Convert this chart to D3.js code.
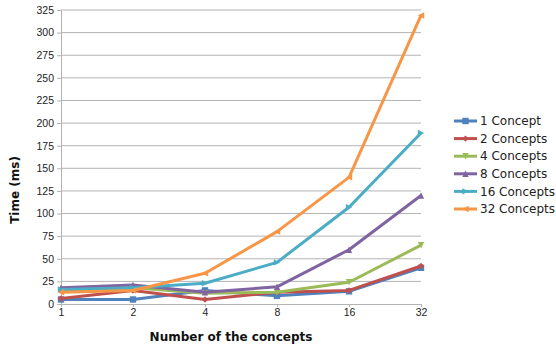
<!DOCTYPE html>
<html>
<head>
<meta charset="utf-8">
<script src="https://cdn.jsdelivr.net/npm/d3@7/dist/d3.min.js"></script>
<style>
  html, body { margin: 0; padding: 0; background: #fff; }
  svg { display: block; font-family: "DejaVu Sans", sans-serif; }
</style>
</head>
<body>
<svg id="chart" width="556" height="349"></svg>
<script>
// Number of concepts on the x axis (log2 spacing)
const concepts = [1, 2, 4, 8, 16, 32];
const yTicks = [0, 25, 50, 75, 100, 125, 150, 175, 200, 225, 250, 275, 300, 325];

// Time (ms) per series
const seriesNames = ["1 Concept", "2 Concepts", "4 Concepts", "8 Concepts", "16 Concepts", "32 Concepts"];
const oneConcept     = [5, 5, 15, 9, 14, 40];
const twoConcepts    = [6, 15, 5, 13, 15, 42];
const fourConcepts   = [15, 18, 12, 13, 24, 65];
const eightConcepts  = [18, 21, 13, 19, 60, 120];
const sixteenConcepts = [16, 18, 23, 46, 107, 189];
const thirtyTwoConcepts = [13, 15, 34, 80, 140, 319];

const colors = ["#4f81bd", "#c0504d", "#9bbb59", "#8064a2", "#4bacc6", "#f79646"];
const symbols = ["square", "diamond", "down", "up", "right", "left"];

const seriesValues = [oneConcept, twoConcepts, fourConcepts, eightConcepts, sixteenConcepts, thirtyTwoConcepts];
const series = seriesNames.map((name, i) => ({
  name, color: colors[i], symbol: symbols[i],
  values: concepts.map((c, j) => ({ x: c, y: seriesValues[i][j] }))
}));

const svg = d3.select("#chart");
const plotLeft = 61, plotRight = 421, plotTop = 10, plotBottom = 304;

const x = d3.scaleLog().base(2).domain([1, 32]).range([plotLeft, plotRight]);
const y = d3.scaleLinear().domain([0, 325]).range([plotBottom, plotTop]);

// horizontal gridlines
svg.append("g")
  .selectAll("line")
  .data(yTicks.filter(d => d > 0))
  .join("line")
  .attr("x1", plotLeft).attr("x2", plotRight)
  .attr("y1", d => y(d)).attr("y2", d => y(d))
  .attr("stroke", "#b3b3b3").attr("stroke-width", 1);

// y axis
const yAxis = svg.append("g")
  .attr("transform", `translate(${plotLeft},0)`)
  .call(d3.axisLeft(y).tickValues(yTicks).tickSize(4).tickPadding(3).tickFormat(d3.format("d")));
yAxis.select(".domain").attr("stroke", "#b3b3b3");
yAxis.selectAll(".tick line").attr("stroke", "#b3b3b3");
yAxis.selectAll("text").attr("font-size", 10.5).attr("fill", "#222");

// x axis
const xAxis = svg.append("g")
  .attr("transform", `translate(0,${plotBottom})`)
  .call(d3.axisBottom(x).tickValues(concepts).tickSize(3).tickPadding(2).tickFormat(d3.format("d")));
xAxis.select(".domain").attr("stroke", "#b3b3b3");
xAxis.selectAll(".tick line").attr("stroke", "#b3b3b3");
xAxis.selectAll("text").attr("font-size", 10.5).attr("fill", "#222");

// axis titles
svg.append("text")
  .attr("x", 231).attr("y", 341)
  .attr("text-anchor", "middle")
  .attr("font-weight", "bold").attr("font-size", 12).attr("fill", "#111")
  .text("Number of the concepts");
svg.append("text")
  .attr("transform", "translate(19,190) rotate(-90)")
  .attr("text-anchor", "middle")
  .attr("font-weight", "bold").attr("font-size", 12).attr("fill", "#111")
  .text("Time (ms)");

// marker shapes
function markerPath(type, s) {
  switch (type) {
    case "square":  return `M${-s},${-s}H${s}V${s}H${-s}Z`;
    case "diamond": return `M0,${-s}L${s},0L0,${s}L${-s},0Z`;
    case "down":    return `M${-s},${-s}H${s}L0,${s}Z`;
    case "up":      return `M${-s},${s}H${s}L0,${-s}Z`;
    case "right":   return `M${-s},${-s}V${s}L${s},0Z`;
    case "left":    return `M${s},${-s}V${s}L${-s},0Z`;
  }
}

const line = d3.line().x(d => x(d.x)).y(d => y(d.y));

const g = svg.append("g");
series.forEach(s => {
  g.append("path")
    .datum(s.values)
    .attr("fill", "none")
    .attr("stroke", s.color)
    .attr("stroke-width", 3)
    .attr("stroke-linejoin", "round")
    .attr("d", line);
  g.selectAll(null)
    .data(s.values)
    .join("path")
    .attr("transform", d => `translate(${x(d.x)},${y(d.y)})`)
    .attr("d", markerPath(s.symbol, 3.2))
    .attr("fill", s.color);
});

// legend
const legend = svg.append("g");
series.forEach((s, i) => {
  const ly = 121 + i * 17.6;
  legend.append("line")
    .attr("x1", 454).attr("x2", 477)
    .attr("y1", ly).attr("y2", ly)
    .attr("stroke", s.color).attr("stroke-width", 3);
  legend.append("path")
    .attr("transform", `translate(465.5,${ly})`)
    .attr("d", markerPath(s.symbol, 3.2))
    .attr("fill", s.color);
  legend.append("text")
    .attr("x", 480).attr("y", ly)
    .attr("dy", "0.35em")
    .attr("font-size", 12).attr("fill", "#222")
    .text(s.name);
});
</script>
</body>
</html>
